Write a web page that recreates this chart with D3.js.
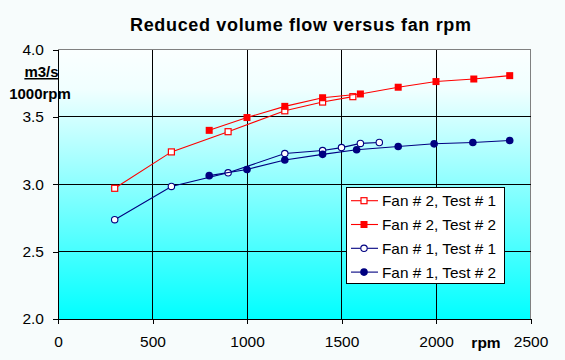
<!DOCTYPE html>
<html><head><meta charset="utf-8">
<script src="https://cdn.jsdelivr.net/npm/d3@7"></script>
<style>html,body{margin:0;padding:0;background:#f7fcfc;}svg{display:block;font-family:"Liberation Sans",Arial,sans-serif;}</style>
</head><body><div id="chart"></div>
<script>
const title = "Reduced volume flow versus fan rpm";
const xTicks = [0, 500, 1000, 1500, 2000, 2500];
const yTicks = [2.0, 2.5, 3.0, 3.5, 4.0];
const seriesNames = ["Fan # 2, Test # 1", "Fan # 2, Test # 2", "Fan # 1, Test # 1", "Fan # 1, Test # 2"];
const rpmF2T1 = [300, 600, 900, 1200, 1400, 1560];
const flowF2T1 = [2.97, 3.24, 3.39, 3.545, 3.61, 3.65];
const rpmF2T2 = [800, 1000, 1200, 1400, 1600, 1800, 2000, 2200, 2390];
const flowF2T2 = [3.40, 3.495, 3.578, 3.642, 3.67, 3.72, 3.762, 3.781, 3.806];
const rpmF1T1 = [300, 600, 900, 1200, 1400, 1500, 1600, 1700];
const flowF1T1 = [2.737, 2.984, 3.085, 3.228, 3.25, 3.272, 3.303, 3.31];
const rpmF1T2 = [800, 1000, 1200, 1400, 1580, 1800, 1990, 2195, 2390];
const flowF1T2 = [3.064, 3.11, 3.18, 3.222, 3.256, 3.28, 3.30, 3.31, 3.325];

const series = [
  {name: seriesNames[0], x: rpmF2T1, y: flowF2T1, color: "#ff0000", shape: "square", filled: false},
  {name: seriesNames[1], x: rpmF2T2, y: flowF2T2, color: "#ff0000", shape: "square", filled: true},
  {name: seriesNames[2], x: rpmF1T1, y: flowF1T1, color: "#000080", shape: "circle", filled: false},
  {name: seriesNames[3], x: rpmF1T2, y: flowF1T2, color: "#000080", shape: "circle", filled: true}
];

const W = 565, H = 360;
const L = 58, R = 530.5, T = 49.5, B = 319;
const svg = d3.select("#chart").append("svg").attr("width", W).attr("height", H);
svg.append("rect").attr("width", W).attr("height", H).attr("fill", "#f7fcfc");

const x = d3.scaleLinear().domain([0, 2500]).range([L, R]);
const y = d3.scaleLinear().domain([2.0, 4.0]).range([B, T]);

const defs = svg.append("defs");
const grad = defs.append("linearGradient").attr("id", "bg").attr("x1", 0).attr("y1", 0).attr("x2", 0).attr("y2", 1);
grad.append("stop").attr("offset", "0%").attr("stop-color", "#fbffff");
grad.append("stop").attr("offset", "15%").attr("stop-color", "#f0ffff");
grad.append("stop").attr("offset", "100%").attr("stop-color", "#00ffff");

svg.append("rect").attr("x", L).attr("y", T).attr("width", R - L).attr("height", B - T).attr("fill", "url(#bg)");

// plot border (top/right gray)
svg.append("path").attr("d", `M${L},${T}H${R}V${B}`).attr("fill", "none").attr("stroke", "#808080").attr("stroke-width", 1).attr("shape-rendering", "crispEdges");

// gridlines
const g = svg.append("g").attr("shape-rendering", "crispEdges");
g.selectAll(".hg").data(yTicks.filter(d => d > 2 && d < 4)).enter().append("line")
  .attr("x1", L).attr("x2", R).attr("y1", d => y(d)).attr("y2", d => y(d)).attr("stroke", "#000");
g.selectAll(".vg").data(xTicks.filter(d => d > 0 && d < 2500)).enter().append("line")
  .attr("y1", T).attr("y2", B).attr("x1", d => x(d)).attr("x2", d => x(d)).attr("stroke", "#000");

// axes
const xAxis = d3.axisBottom(x).tickValues(xTicks).tickSize(5).tickPadding(12).tickFormat(d3.format("d"));
const yAxis = d3.axisLeft(y).tickValues(yTicks).tickSize(5).tickPadding(9).tickFormat(d3.format(".1f"));
const gx = svg.append("g").attr("transform", `translate(0,${B})`).call(xAxis);
const gy = svg.append("g").attr("transform", `translate(${L},0)`).call(yAxis);
[gx, gy].forEach(a => {
  a.selectAll("line").attr("stroke", "#000").attr("shape-rendering", "crispEdges");
  a.selectAll("text").attr("font-size", 15.5).attr("font-family", "'Liberation Sans',Arial,sans-serif").attr("fill", "#000");
});
gx.select(".domain").remove(); gy.select(".domain").remove();
svg.append("line").attr("x1", L).attr("x2", R).attr("y1", B).attr("y2", B).attr("stroke", "#000").attr("shape-rendering", "crispEdges");
svg.append("line").attr("x1", L).attr("x2", L).attr("y1", T).attr("y2", B).attr("stroke", "#000").attr("shape-rendering", "crispEdges");

// series
const line = d3.line().x(d => x(d[0])).y(d => y(d[1]));
series.forEach(s => {
  const pts = s.x.map((v, i) => [v, s.y[i]]);
  svg.append("path").datum(pts).attr("d", line).attr("fill", "none").attr("stroke", s.color).attr("stroke-width", 1.1);
  const mg = svg.append("g");
  pts.forEach(p => drawMarker(mg, x(p[0]), y(p[1]), s));
});

function drawMarker(sel, cx, cy, s) {
  if (s.shape === "square") {
    const sz = s.filled ? 7 : 6;
    sel.append("rect").attr("x", cx - sz / 2).attr("y", cy - sz / 2).attr("width", sz).attr("height", sz)
      .attr("fill", s.filled ? s.color : "#ffffff").attr("stroke", s.color).attr("stroke-width", s.filled ? 0 : 1.2);
  } else {
    const r = s.filled ? 3.8 : 3.2;
    sel.append("circle").attr("cx", cx).attr("cy", cy).attr("r", r)
      .attr("fill", s.filled ? s.color : "#ffffff").attr("stroke", s.color).attr("stroke-width", s.filled ? 0 : 1.1);
  }
}

// legend
const lg = svg.append("g");
lg.append("rect").attr("x", 346).attr("y", 187.5).attr("width", 158.5).attr("height", 96)
  .attr("fill", "#ffffff").attr("stroke", "#000").attr("stroke-width", 1).attr("shape-rendering", "crispEdges");
series.forEach((s, i) => {
  const ry = 200.7 + i * 23.8;
  lg.append("line").attr("x1", 351).attr("x2", 378).attr("y1", ry).attr("y2", ry).attr("stroke", s.color).attr("stroke-width", 1.1);
  drawMarker(lg, 364, ry, s);
  lg.append("text").attr("x", 382).attr("y", ry + 5.5).attr("font-size", 15).attr("textLength", 114).attr("lengthAdjust", "spacingAndGlyphs").attr("fill", "#000").text(s.name);
});

// title
svg.append("text").attr("x", 130).attr("y", 31).attr("font-size", 18).attr("font-weight", "bold")
  .attr("textLength", 341).attr("lengthAdjust", "spacing").text(title);

// y-axis unit label
svg.append("text").attr("x", 41.5).attr("y", 77).attr("text-anchor", "middle").attr("font-size", 15).attr("font-weight", "bold")
  .attr("text-decoration", "underline").text("m3/s");
svg.append("text").attr("x", 40).attr("y", 99).attr("text-anchor", "middle").attr("font-size", 15).attr("font-weight", "bold").text("1000rpm");

// x-axis unit label
svg.append("text").attr("x", 486).attr("y", 348).attr("text-anchor", "middle").attr("font-size", 15.5).attr("font-weight", "bold").text("rpm");
</script>
</body></html>
